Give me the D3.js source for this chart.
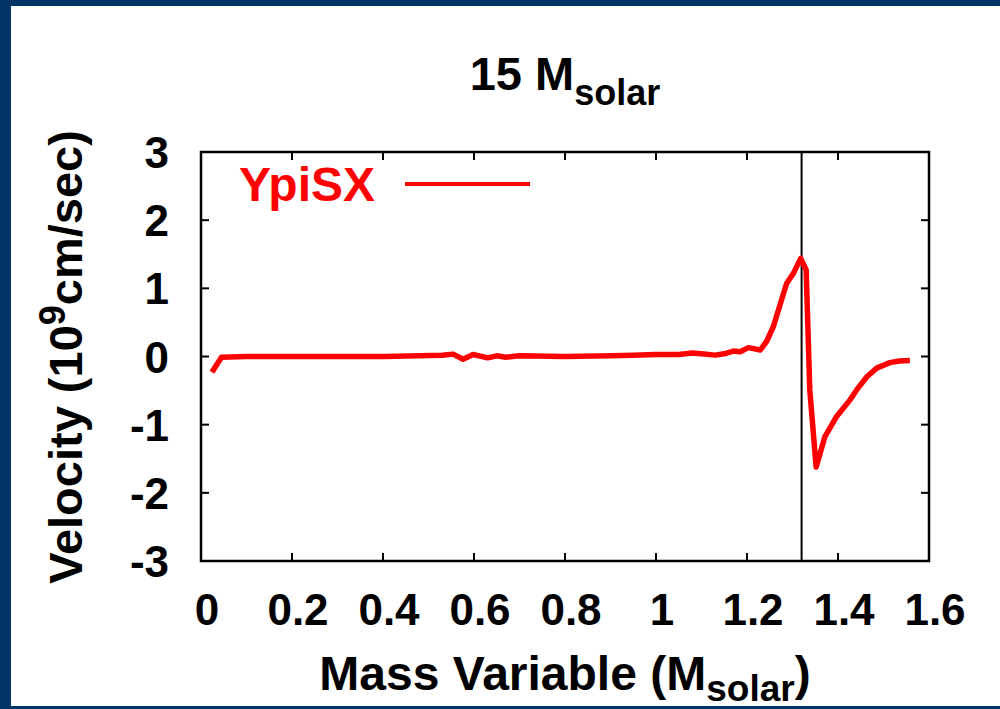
<!DOCTYPE html>
<html>
<head>
<meta charset="utf-8">
<script src="https://cdn.jsdelivr.net/npm/d3@7"></script>
<style>
  html, body { margin: 0; padding: 0; background: #fff; }
  svg { display: block; }
  text { font-family: "Liberation Sans", Arial, Helvetica, sans-serif; font-weight: bold; }
</style>
</head>
<body>
<script>
// Velocity profile of the 15 solar-mass model against mass coordinate
const mass = [0.024, 0.045, 0.1, 0.2, 0.3, 0.4, 0.48, 0.53, 0.554, 0.576, 0.598, 0.63, 0.65, 0.67, 0.7,
  0.8, 0.9, 0.95, 1.0, 1.05, 1.08, 1.1, 1.13, 1.15, 1.17, 1.185, 1.203, 1.229, 1.243, 1.258, 1.287,
  1.302, 1.318, 1.33, 1.338, 1.352, 1.371, 1.397, 1.426, 1.441, 1.463, 1.485, 1.514, 1.535, 1.558];
const velocity = [-0.23, -0.01, 0.0, 0.0, 0.0, 0.0, 0.01, 0.02, 0.035, -0.04, 0.03, -0.02, 0.01, -0.01, 0.01,
  0.0, 0.01, 0.02, 0.03, 0.03, 0.05, 0.04, 0.02, 0.04, 0.08, 0.07, 0.13, 0.095, 0.22, 0.44, 1.07,
  1.22, 1.44, 1.27, -0.49, -1.62, -1.18, -0.88, -0.64, -0.49, -0.30, -0.17, -0.09, -0.065, -0.06];
const shockMass = 1.32;
const xTicks = [0, 0.2, 0.4, 0.6, 0.8, 1, 1.2, 1.4, 1.6];
const xTickLabels = ["0", "0.2", "0.4", "0.6", "0.8", "1", "1.2", "1.4", "1.6"];
const yTicks = [-3, -2, -1, 0, 1, 2, 3];
const yTickLabels = ["-3", "-2", "-1", "0", "1", "2", "3"];
const seriesName = "YpiSX";

const W = 1000, H = 709;
const plot = { left: 201, right: 929, top: 152, bottom: 561 };

const svg = d3.select("body").append("svg").attr("width", W).attr("height", H);

// Dark blue slide frame
svg.append("rect").attr("x", 0).attr("y", 0).attr("width", W).attr("height", H).attr("fill", "#003366");
svg.append("rect").attr("x", 11).attr("y", 6).attr("width", W - 11).attr("height", H - 6 - 3).attr("fill", "#fff");

const x = d3.scaleLinear().domain([0, 1.6]).range([plot.left, plot.right]);
const y = d3.scaleLinear().domain([-3, 3]).range([plot.bottom, plot.top]);

const tickLen = 8;
const axisG = svg.append("g");

// Inward ticks on all four sides
xTicks.forEach(t => {
  axisG.append("line").attr("x1", x(t)).attr("x2", x(t)).attr("y1", plot.bottom).attr("y2", plot.bottom - tickLen)
    .attr("stroke", "#000").attr("stroke-width", 2);
  axisG.append("line").attr("x1", x(t)).attr("x2", x(t)).attr("y1", plot.top).attr("y2", plot.top + tickLen)
    .attr("stroke", "#000").attr("stroke-width", 2);
});
yTicks.forEach(t => {
  axisG.append("line").attr("x1", plot.left).attr("x2", plot.left + tickLen).attr("y1", y(t)).attr("y2", y(t))
    .attr("stroke", "#000").attr("stroke-width", 2);
  axisG.append("line").attr("x1", plot.right).attr("x2", plot.right - tickLen).attr("y1", y(t)).attr("y2", y(t))
    .attr("stroke", "#000").attr("stroke-width", 2);
});

// Tick labels
axisG.selectAll("text.xt").data(xTicks).enter().append("text")
  .attr("x", (d) => x(d) + 6).attr("y", plot.bottom + 64)
  .attr("text-anchor", "middle").attr("font-size", 44).attr("fill", "#000")
  .text((d, i) => xTickLabels[i]);
axisG.selectAll("text.yt").data(yTicks).enter().append("text")
  .attr("x", 169).attr("y", (d) => y(d) + 16)
  .attr("text-anchor", "end").attr("font-size", 44).attr("fill", "#000")
  .text((d, i) => yTickLabels[i]);

// Shock position marker
svg.append("line").attr("x1", x(shockMass)).attr("x2", x(shockMass))
  .attr("y1", plot.top).attr("y2", plot.bottom).attr("stroke", "#000").attr("stroke-width", 2);

// Velocity curve
const pts = mass.map((m, i) => [m, velocity[i]]);
const line = d3.line().x(d => x(d[0])).y(d => y(d[1]));
svg.append("path").datum(pts).attr("d", line)
  .attr("fill", "none").attr("stroke", "#ff0000").attr("stroke-width", 5.5)
  .attr("stroke-linejoin", "round");

// Plot frame
svg.append("rect").attr("x", plot.left).attr("y", plot.top)
  .attr("width", plot.right - plot.left).attr("height", plot.bottom - plot.top)
  .attr("fill", "none").attr("stroke", "#000").attr("stroke-width", 2.5);

// Legend
svg.append("text").attr("x", 375).attr("y", 201).attr("text-anchor", "end")
  .attr("font-size", 48).attr("fill", "#ff0000").text(seriesName);
svg.append("line").attr("x1", 405).attr("x2", 530).attr("y1", 184).attr("y2", 184)
  .attr("stroke", "#ff0000").attr("stroke-width", 4);

// Title
const title = svg.append("text").attr("x", (plot.left + plot.right) / 2).attr("y", 90)
  .attr("text-anchor", "middle").attr("font-size", 47).attr("fill", "#000");
title.append("tspan").text("15 M");
title.append("tspan").attr("font-size", 36).attr("dy", 15).text("solar");

// X axis title
const xt = svg.append("text").attr("x", (plot.left + plot.right) / 2).attr("y", 690)
  .attr("text-anchor", "middle").attr("font-size", 48).attr("fill", "#000");
xt.append("tspan").text("Mass Variable (M");
xt.append("tspan").attr("font-size", 37).attr("dy", 11).text("solar");
xt.append("tspan").attr("dy", -11).text(")");

// Y axis title
const yt = svg.append("text").attr("transform", "translate(82,357) rotate(-90)")
  .attr("text-anchor", "middle").attr("font-size", 47).attr("fill", "#000");
yt.append("tspan").text("Velocity (10");
yt.append("tspan").attr("font-size", 36).attr("dy", -17).text("9");
yt.append("tspan").attr("dy", 17).text("cm/sec)");
</script>
</body>
</html>
